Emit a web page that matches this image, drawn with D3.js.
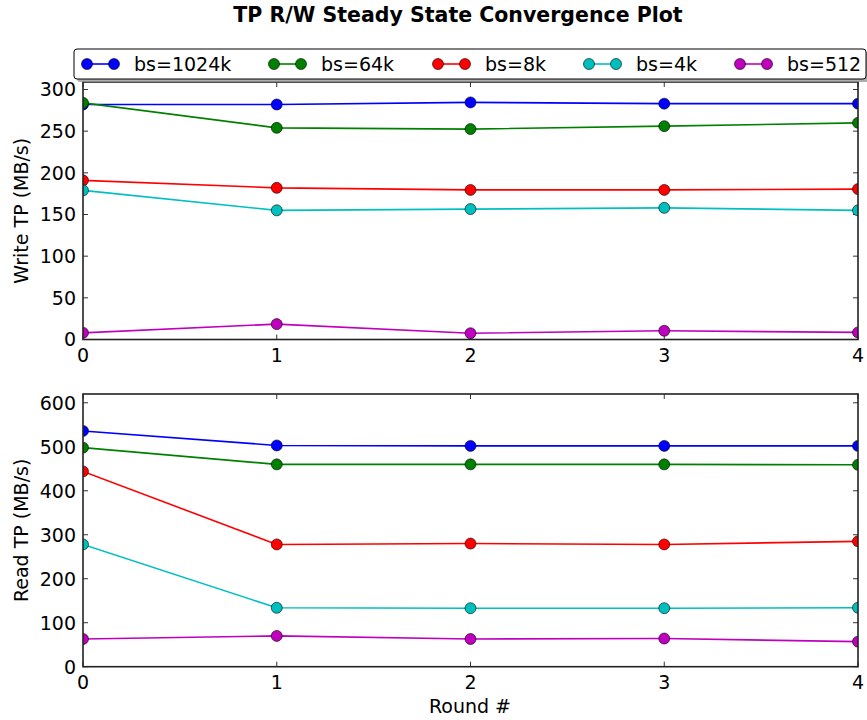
<!DOCTYPE html>
<html>
<head>
<meta charset="utf-8">
<script src="https://cdn.jsdelivr.net/npm/d3@7"></script>
<style>
  body { margin: 0; background: #fff; }
  svg text { font-family: "DejaVu Sans", sans-serif; fill: #000; }
</style>
</head>
<body>
<svg id="chart" width="867" height="720"></svg>
<script>
// data
const rounds = [0, 1, 2, 3, 4];
const seriesNames = ["bs=1024k", "bs=64k", "bs=8k", "bs=4k", "bs=512"];
const seriesColors = ["#0000ff", "#008000", "#ff0000", "#00bfbf", "#bf00bf"];

const write1024k = [282, 282, 284.5, 283, 283];
const write64k = [284, 254, 252.5, 256, 260];
const write8k = [191, 182, 179.5, 179.5, 180.5];
const write4k = [179, 155, 156.5, 158, 155];
const write512 = [8, 18.5, 7.5, 10.5, 8.5];

const read1024k = [536, 503, 502, 502, 502];
const read64k = [498, 460, 460, 460, 459];
const read8k = [444, 278, 280, 278, 285];
const read4k = [278, 134, 133, 133, 134];
const read512 = [63, 70, 63, 64, 57];

const writeTicks = [0, 50, 100, 150, 200, 250, 300];
const readTicks = [0, 100, 200, 300, 400, 500, 600];

const svg = d3.select("#chart");
const left = 83, right = 858;
const fs = 19;

const x = d3.scaleLinear().domain([0, 4]).range([left, right]);

function drawPanel(id, top, bottom, yMax, ticks, series, yLabel) {
	const y = d3.scaleLinear().domain([0, yMax]).range([bottom, top]);
	const g = svg.append("g").attr("id", id);

	g.append("clipPath").attr("id", id + "-clip")
		.append("rect")
		.attr("x", left).attr("y", top)
		.attr("width", right - left).attr("height", bottom - top);

	// ticks pointing inwards on all four sides
	const tickLen = 5;
	const tg = g.append("g").attr("stroke", "#333").attr("stroke-width", 1);
	ticks.forEach(t => {
		tg.append("line").attr("x1", left).attr("x2", left + tickLen).attr("y1", y(t)).attr("y2", y(t));
		tg.append("line").attr("x1", right).attr("x2", right - tickLen).attr("y1", y(t)).attr("y2", y(t));
	});
	rounds.forEach(r => {
		tg.append("line").attr("x1", x(r)).attr("x2", x(r)).attr("y1", bottom).attr("y2", bottom - tickLen);
		tg.append("line").attr("x1", x(r)).attr("x2", x(r)).attr("y1", top).attr("y2", top + tickLen);
	});

	// lines + markers
	const line = d3.line().x((d, i) => x(rounds[i])).y(d => y(d));
	const plot = g.append("g").attr("clip-path", "url(#" + id + "-clip)");
	series.forEach((vals, si) => {
		plot.append("path")
			.attr("d", line(vals))
			.attr("fill", "none")
			.attr("stroke", seriesColors[si])
			.attr("stroke-width", 1.6);
		plot.selectAll(".m" + si)
			.data(vals)
			.enter().append("circle")
			.attr("cx", (d, i) => x(rounds[i]))
			.attr("cy", d => y(d))
			.attr("r", 5.5)
			.attr("fill", seriesColors[si])
			.attr("stroke", "#000")
			.attr("stroke-width", 0.6);
	});

	// frame
	g.append("rect")
		.attr("x", left).attr("y", top)
		.attr("width", right - left).attr("height", bottom - top)
		.attr("fill", "none").attr("stroke", "#222").attr("stroke-width", 1.6);

	// tick labels
	g.selectAll(".ylab").data(ticks).enter().append("text")
		.attr("x", left - 7).attr("y", d => y(d))
		.attr("dy", "0.36em")
		.attr("text-anchor", "end")
		.attr("font-size", fs)
		.text(d => d);
	g.selectAll(".xlab").data(rounds).enter().append("text")
		.attr("x", d => x(d)).attr("y", bottom + 22)
		.attr("text-anchor", "middle")
		.attr("font-size", fs)
		.text(d => d);

	g.append("text")
		.attr("transform", "translate(28," + ((top + bottom) / 2) + ") rotate(-90)")
		.attr("text-anchor", "middle")
		.attr("font-size", fs)
		.text(yLabel);
}

drawPanel("write", 82, 339.5, 309,
	writeTicks, [write1024k, write64k, write8k, write4k, write512], "Write TP (MB/s)");
drawPanel("read", 394, 666.7, 620,
	readTicks, [read1024k, read64k, read8k, read4k, read512], "Read TP (MB/s)");

// title
svg.append("text")
	.attr("x", 458).attr("y", 22)
	.attr("text-anchor", "middle")
	.attr("font-size", 20.5)
	.attr("font-weight", "bold")
	.text("TP R/W Steady State Convergence Plot");

// x label
svg.append("text")
	.attr("x", 470).attr("y", 713)
	.attr("text-anchor", "middle")
	.attr("font-size", fs)
	.text("Round #");

// legend with shadow
const legend = svg.append("g").attr("id", "legend");
legend.append("rect")
	.attr("x", 77).attr("y", 52).attr("width", 792).attr("height", 30)
	.attr("rx", 3).attr("fill", "#999").attr("opacity", 0.8);
legend.append("rect")
	.attr("x", 74).attr("y", 49).attr("width", 792).attr("height", 30)
	.attr("rx", 3).attr("fill", "#fff").attr("stroke", "#000").attr("stroke-width", 1);

const legendX = [87, 274, 438, 589, 740];
const item = legend.selectAll(".item").data(seriesNames).enter().append("g")
	.attr("transform", (d, i) => "translate(" + legendX[i] + ",64)");
item.append("line")
	.attr("x1", 0).attr("x2", 27).attr("y1", 0).attr("y2", 0)
	.attr("stroke", (d, i) => seriesColors[i]).attr("stroke-width", 1.6);
[0, 27].forEach(cx => {
	item.append("circle")
		.attr("cx", cx).attr("cy", 0).attr("r", 5.5)
		.attr("fill", (d, i) => seriesColors[i])
		.attr("stroke", "#000").attr("stroke-width", 0.6);
});
item.append("text")
	.attr("x", 47).attr("y", 0).attr("dy", "0.36em")
	.attr("font-size", fs)
	.text(d => d);
</script>
</body>
</html>
